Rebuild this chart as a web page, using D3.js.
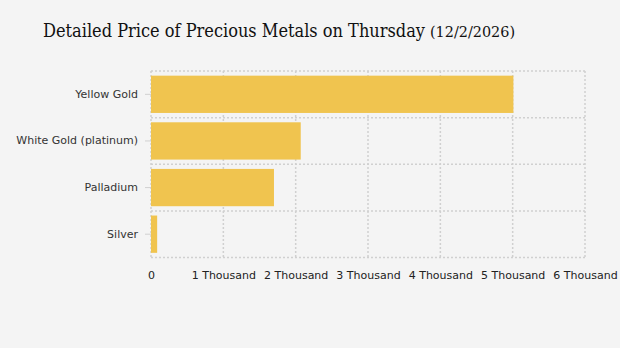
<!DOCTYPE html>
<html><head><meta charset="utf-8">
<script src="https://cdn.jsdelivr.net/npm/d3@7"></script>
<style>body{margin:0;background:#f4f4f4;}svg{display:block;}</style>
</head><body>
<svg id="c" width="620" height="348"></svg>
<script>
const categories = ["Yellow Gold", "White Gold (platinum)", "Palladium", "Silver"];
const values = [5010, 2070, 1700, 85];
const xTicks = [0, 1000, 2000, 3000, 4000, 5000, 6000];
const xTickLabels = ["0", "1 Thousand", "2 Thousand", "3 Thousand", "4 Thousand", "5 Thousand", "6 Thousand"];

const svg = d3.select("#c");
svg.append("rect").attr("width", 620).attr("height", 348).attr("fill", "#f4f4f4");
const L = 151, R = 585, T = 71, B = 257.5;
const x = d3.scaleLinear().domain([0, 6000]).range([L, R]);
const y = d3.scaleBand().domain(categories).range([T, B]).paddingInner(0.2).paddingOuter(0.1);
const yg = d3.scaleBand().domain(categories).range([T, B]);

const grid = svg.append("g").attr("stroke", "#d0d0d0").attr("stroke-dasharray", "2,2").attr("stroke-width", 1.5);
xTicks.forEach(t => grid.append("line").attr("x1", x(t)).attr("x2", x(t)).attr("y1", T).attr("y2", B));
categories.forEach(c => grid.append("line").attr("x1", L).attr("x2", R).attr("y1", yg(c)).attr("y2", yg(c)));
grid.append("line").attr("x1", L).attr("x2", R).attr("y1", B).attr("y2", B);

svg.append("g").selectAll("rect").data(categories).join("rect")
  .attr("x", x(0)).attr("y", c => y(c))
  .attr("width", (c, i) => x(values[i]) - x(0)).attr("height", y.bandwidth())
  .attr("fill", "#f0c44f");

const xa = svg.append("g").attr("transform", `translate(0,${B})`)
  .call(d3.axisBottom(x).tickValues(xTicks).tickFormat((d, i) => xTickLabels[i]).tickSize(0).tickPadding(14));
xa.select(".domain").remove();
xa.selectAll("text").attr("font-family", "DejaVu Sans, Verdana, sans-serif").attr("font-size", 11).attr("fill", "#222");

const ya = svg.append("g").attr("transform", `translate(${L},0)`)
  .call(d3.axisLeft(yg).tickSize(6).tickPadding(7));
ya.select(".domain").remove();
ya.selectAll("line").attr("stroke", "#d0d0d0");
ya.selectAll("text").attr("font-family", "DejaVu Sans, Verdana, sans-serif").attr("font-size", 11).attr("fill", "#333");

svg.append("text").attr("x", 43).attr("y", 37)
  .attr("font-family", "DejaVu Serif Condensed, DejaVu Serif, serif").attr("fill", "#111")
  .attr("font-size", 18.5).attr("textLength", 382).attr("lengthAdjust", "spacingAndGlyphs")
  .text("Detailed Price of Precious Metals on Thursday");
svg.append("text").attr("x", 430).attr("y", 37)
  .attr("font-family", "DejaVu Serif Condensed, DejaVu Serif, serif").attr("fill", "#111")
  .attr("font-size", 15).attr("textLength", 85).attr("lengthAdjust", "spacingAndGlyphs")
  .text("(12/2/2026)");
</script>
</body></html>
